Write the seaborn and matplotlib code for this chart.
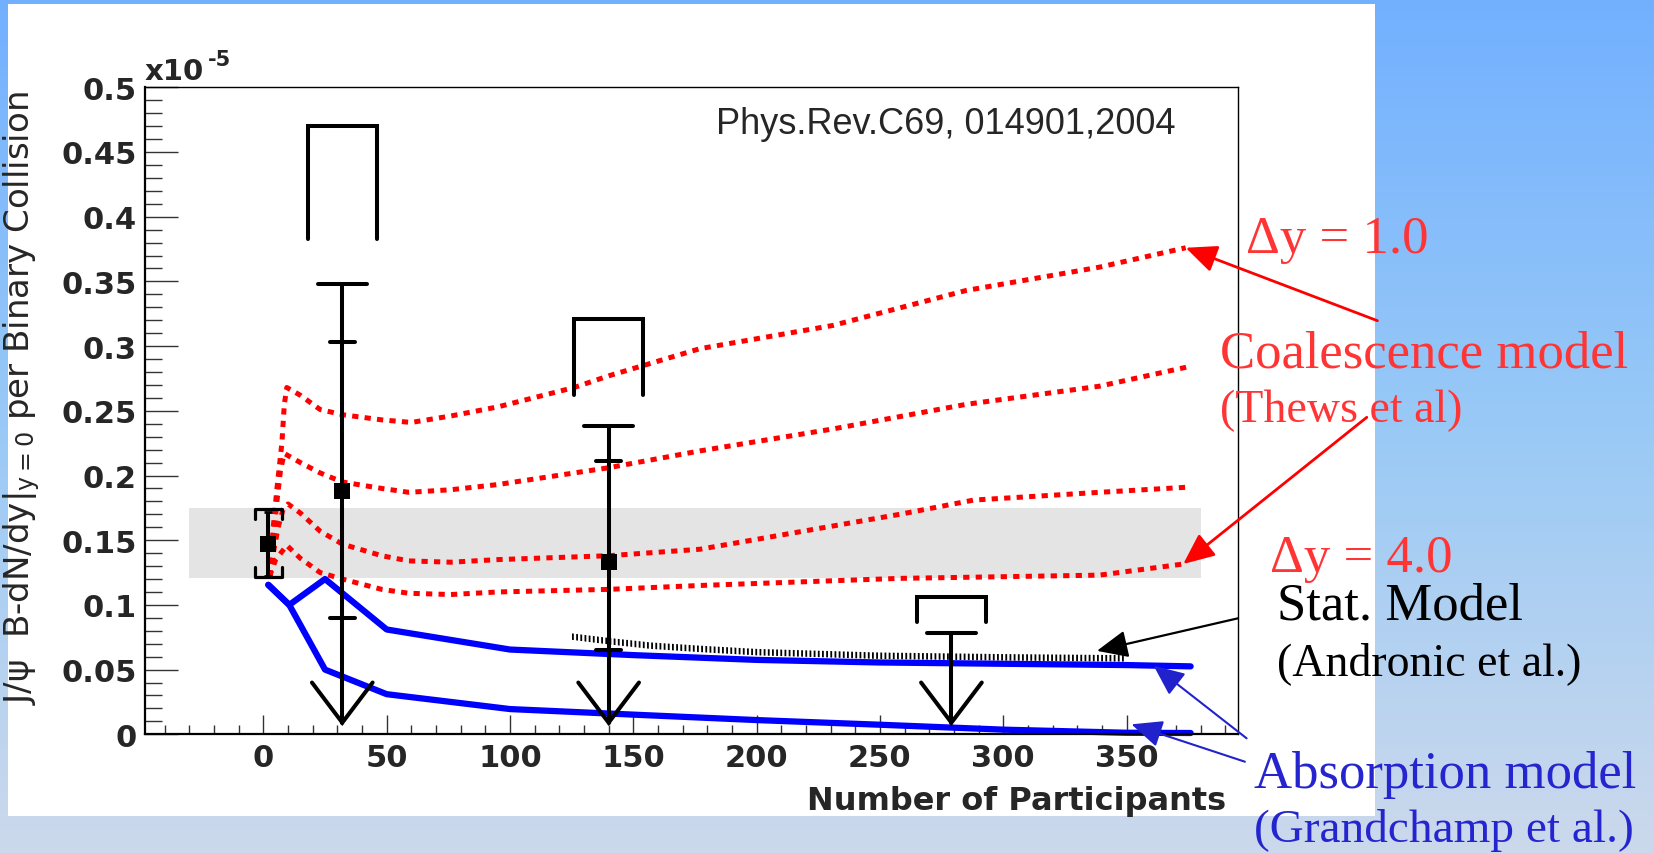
import numpy as np
import matplotlib
matplotlib.use("Agg")
import matplotlib.pyplot as plt
from matplotlib.patches import Rectangle
from matplotlib.ticker import FixedLocator, MultipleLocator
import seaborn as sns

# ---------------- data (J/psi yields in units of 1e-5) ----------------
# Coalescence model (Thews et al.), from dy = 1.0 (top) to dy = 4.0 (bottom)
coal1_x = [2.5, 4, 5.5, 7.5, 8.5, 9.5, 15, 23, 32, 48, 60, 76, 95, 126, 140, 177, 231, 285, 339, 374]
coal1_y = [0.122, 0.160, 0.190, 0.225, 0.255, 0.268, 0.262, 0.251, 0.247, 0.243, 0.241, 0.246,
           0.253, 0.268, 0.277, 0.298, 0.316, 0.343, 0.361, 0.376]
coal2_x = [2.5, 4, 5.5, 7, 8.5, 15, 23, 32, 48, 59, 76, 95, 140, 177, 231, 285, 339, 375]
coal2_y = [0.122, 0.150, 0.180, 0.205, 0.217, 0.210, 0.202, 0.195, 0.190, 0.187, 0.189, 0.193,
           0.206, 0.219, 0.236, 0.255, 0.269, 0.284]
coal3_x = [2.5, 4, 6, 8, 10, 15, 23, 32, 48, 59, 76, 95, 140, 177, 231, 258, 288, 339, 375]
coal3_y = [0.122, 0.140, 0.160, 0.174, 0.178, 0.171, 0.157, 0.147, 0.138, 0.134, 0.133, 0.135,
           0.138, 0.143, 0.161, 0.170, 0.181, 0.187, 0.191]
coal4_x = [2.5, 5, 9.5, 15, 23, 32, 48, 59, 76, 95, 140, 177, 258, 339, 373]
coal4_y = [0.122, 0.135, 0.146, 0.136, 0.125, 0.120, 0.112, 0.109, 0.108, 0.110, 0.112, 0.115,
           0.1205, 0.123, 0.1316]

# Absorption model (Grandchamp et al.)
absA_x = [2, 10.5, 25, 50, 100, 150, 200, 250, 300, 350, 376]
absA_y = [0.1155, 0.100, 0.120, 0.081, 0.0655, 0.0612, 0.0575, 0.0555, 0.0545, 0.0535, 0.0525]
absB_x = [2, 10.5, 25, 50, 100, 150, 200, 250, 300, 350, 376]
absB_y = [0.1155, 0.100, 0.050, 0.031, 0.0195, 0.0152, 0.011, 0.0074, 0.0036, 0.0012, 0.001]

# Statistical hadronization model (Andronic et al.)
stat_x = [125, 140, 157, 177, 200, 250, 300, 349]
stat_y = [0.0755, 0.072, 0.0685, 0.066, 0.0635, 0.0607, 0.0595, 0.0587]
stat_halfwidth = 0.0025

# p+p reference
pp_x = 2
pp_y = 0.147
pp_stat = 0.025
pp_sys_lo, pp_sys_hi = 0.1216, 0.174
pp_band_x = [-30, 380]
pp_band_lo, pp_band_hi = 0.121, 0.1747

# Au+Au measurements
auau_x = [32, 140]
auau_y = [0.188, 0.133]
auau_stat_lo = [0.090, 0.065]
auau_stat_hi = [0.303, 0.2115]

# 90% CL upper limits and their systematic range
ul_x = [32, 140, 279]
ul_y = [0.348, 0.238, 0.078]
ul_sys_top = [0.470, 0.321, 0.106]
ul_sys_bottom = [0.383, 0.262, 0.087]
ul_arrow_tip = 0.009

x_ticks = [0, 50, 100, 150, 200, 250, 300, 350]
x_tick_labels = ["0", "50", "100", "150", "200", "250", "300", "350"]
y_ticks = [0, 0.05, 0.1, 0.15, 0.2, 0.25, 0.3, 0.35, 0.4, 0.45, 0.5]
y_tick_labels = ["0", "0.05", "0.1", "0.15", "0.2", "0.25", "0.3", "0.35", "0.4", "0.45", "0.5"]

# ---------------- style ----------------
sns.set_style("ticks")
plt.rcParams["font.family"] = ["DejaVu Sans"]
plt.rcParams["hatch.linewidth"] = 1.3

W, H = 1654, 854
fig = plt.figure(figsize=(W / 100, H / 100), dpi=100)

# slide background with a vertical colour gradient
bg = fig.add_axes([0, 0, 1, 1], zorder=-10)
stops = np.array([[0.447, 0.690, 1.000],
                  [0.600, 0.790, 0.965],
                  [0.800, 0.850, 0.925]])
t = np.linspace(0, 1, 256)
grad = np.stack([np.interp(t, [0, 0.5, 1], stops[:, c]) for c in range(3)], axis=-1)[:, None, :]
bg.imshow(grad, aspect="auto", extent=[0, 1, 0, 1], origin="upper")
bg.axis("off")

# white canvas holding the plot
fig.add_artist(Rectangle((8 / W, (H - 817) / H), (1375 - 8) / W, (817 - 5) / H,
                         transform=fig.transFigure, facecolor="white",
                         edgecolor="none", zorder=-5))

ax = fig.add_axes([145 / W, (H - 735.3) / H, (1237.5 - 145) / W, (735.3 - 88.3) / H])
ax.set_facecolor("none")

# p+p band
ax.fill_between(pp_band_x, pp_band_lo, pp_band_hi, color="#e4e4e4", lw=0, zorder=0.5)

# coalescence curves
for cx, cy in [(coal1_x, coal1_y), (coal2_x, coal2_y), (coal3_x, coal3_y), (coal4_x, coal4_y)]:
    sns.lineplot(x=cx, y=cy, ax=ax, color="#ff0000", lw=3.6, sort=False, estimator=None,
                 linestyle=(0, (1.25, 1.25)), zorder=2)

# absorption curves
for bx, by in [(absA_x, absA_y), (absB_x, absB_y)]:
    sns.lineplot(x=bx, y=by, ax=ax, color="#0000ff", lw=4.5, sort=False, estimator=None,
                 zorder=2.5, clip_on=False)

# statistical model band (hatched)
stat_arr = np.array(stat_y)
ax.fill_between(stat_x, stat_arr - stat_halfwidth, stat_arr + stat_halfwidth,
                facecolor="none", edgecolor="black", hatch="||||", lw=0, zorder=2.6)

black_lw = 2.9
# p+p point
ax.errorbar(pp_x, pp_y, yerr=pp_stat, fmt="none", ecolor="black", elinewidth=black_lw,
            capsize=3, capthick=2, zorder=4)
hw = 5.5
leg = 0.008
ax.plot([pp_x - hw, pp_x - hw, pp_x + hw, pp_x + hw],
        [pp_sys_hi - leg, pp_sys_hi, pp_sys_hi, pp_sys_hi - leg], color="black", lw=2.3, zorder=4)
ax.plot([pp_x - hw, pp_x - hw, pp_x + hw, pp_x + hw],
        [pp_sys_lo + leg, pp_sys_lo, pp_sys_lo, pp_sys_lo + leg], color="black", lw=2.3, zorder=4)

# upper limits: line down to an open arrow head, wide cap, systematic bracket
for x, ul, top, bot in zip(ul_x, ul_y, ul_sys_top, ul_sys_bottom):
    ax.plot([x, x], [ul_arrow_tip, ul], color="black", lw=black_lw, zorder=4)
    ax.plot([x - 10, x + 10], [ul, ul], color="black", lw=black_lw, zorder=4)
    ax.plot([x - 12.3, x, x + 12.3], [ul_arrow_tip + 0.031, ul_arrow_tip, ul_arrow_tip + 0.031],
            color="black", lw=black_lw, zorder=4, solid_joinstyle="miter")
    ax.plot([x - 14, x - 14, x + 14, x + 14], [bot, top, top, bot], color="black",
            lw=black_lw, zorder=4, solid_joinstyle="miter")

# Au+Au statistical error caps
for x, lo, hi in zip(auau_x, auau_stat_lo, auau_stat_hi):
    ax.plot([x - 5, x + 5], [lo, lo], color="black", lw=black_lw, zorder=4)
    ax.plot([x - 5, x + 5], [hi, hi], color="black", lw=black_lw, zorder=4)

# measured points
sns.scatterplot(x=[pp_x] + auau_x, y=[pp_y] + auau_y, ax=ax, marker="s", s=125,
                color="black", linewidth=0, zorder=5)

# axes
ax.set_xlim(-48, 395)
ax.set_ylim(0, 0.5)
ax.xaxis.set_major_locator(FixedLocator(x_ticks))
ax.xaxis.set_minor_locator(MultipleLocator(10))
ax.yaxis.set_major_locator(FixedLocator(y_ticks))
ax.yaxis.set_minor_locator(MultipleLocator(0.01))
ax.set_xticklabels(x_tick_labels, fontsize=22, fontweight="bold")
ax.set_yticklabels(y_tick_labels, fontsize=22, fontweight="bold")
ax.tick_params(which="both", direction="in", top=False, right=False, color="#333333", width=1.0)
ax.tick_params(axis="y", which="major", length=24, pad=6)
ax.tick_params(axis="y", which="minor", length=12)
ax.tick_params(axis="x", which="major", length=13.5, pad=6)
ax.tick_params(axis="x", which="minor", length=6.5)
for side in ["left", "bottom"]:
    ax.spines[side].set_linewidth(1.6)
    ax.spines[side].set_color("black")
for side in ["top", "right"]:
    ax.spines[side].set_linewidth(1.0)
    ax.spines[side].set_color("black")

ax.set_xlabel("Number of Participants", fontsize=23, fontweight="bold", ha="right", va="baseline")
ax.xaxis.set_label_coords(0.99, -0.1154)
ax.set_ylabel("J/\u03c8  B-dN/dy$|_{\\mathregular{y=0}}$ per Binary Collision", fontsize=24.5,
              ha="center", va="center")
ax.yaxis.set_label_coords(-0.1125, 0.521)

ax.text(0.0, 1.0124, "x10", transform=ax.transAxes, fontsize=21, fontweight="bold",
        ha="left", va="baseline")
ax.text(0.0577, 1.034, "-5", transform=ax.transAxes, fontsize=15, fontweight="bold",
        ha="left", va="baseline")
ax.text(0.523, 0.9445, "Phys.Rev.C69, 014901,2004", transform=ax.transAxes, fontsize=26,
        family=["Liberation Sans", "DejaVu Sans"], ha="left", va="center")

# annotations beside the plot
serif = ["Liberation Serif", "DejaVu Serif"]
red_txt = "#ff3535"
blue_txt = "#2525d0"
def ftext(px, py, s, size, color):
    fig.text(px / W, py / H, s, fontsize=size, color=color, family=serif,
             ha="left", va="baseline")

ftext(1246, H - 253, "\u0394y = 1.0", 38, red_txt)
ftext(1220, H - 367, "Coalescence model", 38, red_txt)
ftext(1220, H - 421.7, "(Thews et al)", 33, red_txt)
ftext(1269.6, H - 571.7, "\u0394y = 4.0", 38, red_txt)
ftext(1276.7, H - 620, "Stat. Model", 38, "black")
ftext(1276.7, H - 675, "(Andronic et al.)", 33, "black")
ftext(1253.7, H - 788, "Absorption model", 38, blue_txt)
ftext(1253.7, H - 841.7, "(Grandchamp et al.)", 34, blue_txt)

def arrow(tip, tail_px, color, lw):
    ax.annotate("", xy=tip, xycoords="data", xytext=tail_px, textcoords="figure pixels",
                annotation_clip=False,
                arrowprops=dict(arrowstyle="-|>,head_length=0.95,head_width=0.42",
                                mutation_scale=20, color=color, lw=lw,
                                shrinkA=0, shrinkB=0))

arrow((coal1_x[-1], coal1_y[-1]), (1377.4, H - 321.7), "#ff0000", 2.0)
arrow((coal4_x[-1], coal4_y[-1]), (1366.8, H - 418.3), "#ff0000", 2.0)
arrow((338, 0.0645), (1238, H - 619.3), "black", 1.6)
arrow((361, 0.053), (1246.6, H - 739.3), "#2222cc", 1.5)
arrow((352, 0.0077), (1244.9, H - 762.7), "#2222cc", 1.5)

fig.savefig("out.png", dpi=100)
